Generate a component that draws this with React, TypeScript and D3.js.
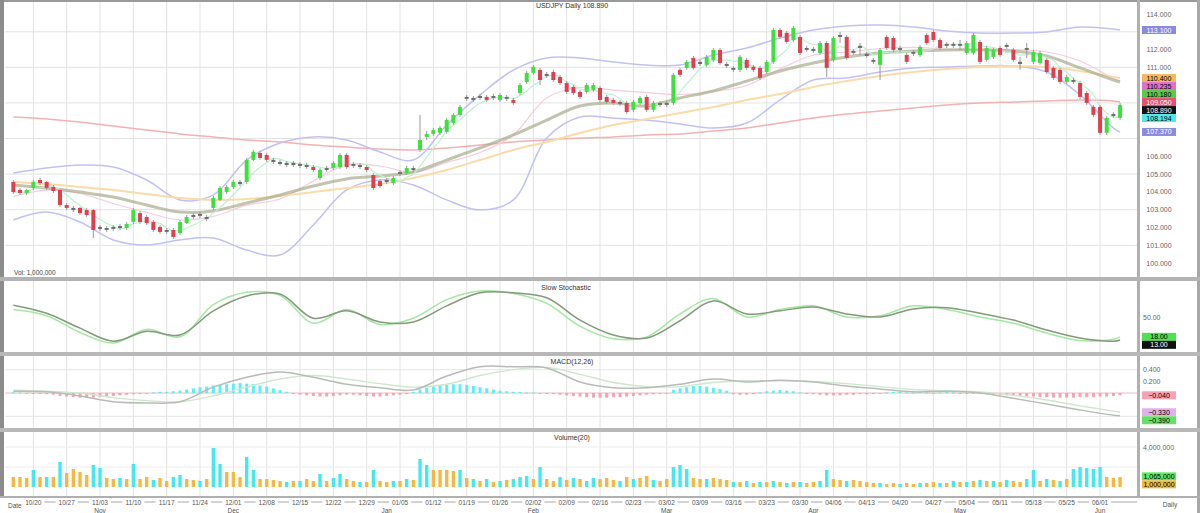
import React from "react";
import * as d3 from "d3";

// ---------- candle data (daily) ----------
const opens = [
  104.56, 104.11, 103.94, 104.22, 104.67, 104.56, 104.28, 104.11, 103.26, 103.10,
  103.10, 102.98, 102.98, 102.03, 101.97, 101.92, 102.08, 101.97, 102.31, 102.81,
  102.59, 102.31, 102.03, 101.86, 101.86, 101.69, 102.25, 102.70, 102.76, 102.59,
  103.10, 103.55, 103.99, 104.28, 104.56, 104.56, 105.80, 106.19, 106.08, 105.80,
  105.68, 105.63, 105.51, 105.57, 105.51, 105.40, 104.78, 105.23, 105.34, 105.40,
  106.08, 105.57, 105.51, 105.40, 104.95, 104.61, 104.56, 104.50, 105.12, 105.06,
  105.34, 106.36, 107.09, 107.26, 107.32, 107.37, 107.88, 108.33, 109.34, 109.17,
  109.39, 109.34, 109.28, 109.17, 109.34, 109.17, 109.56, 110.18, 110.69, 110.86,
  110.63, 110.74, 110.46, 110.12, 109.90, 109.62, 109.62, 109.73, 109.84, 109.34,
  109.17, 109.06, 109.00, 108.61, 109.00, 109.34, 108.61, 109.00, 108.89, 109.00,
  110.86, 110.97, 111.53, 111.31, 111.14, 111.42, 111.98, 111.19, 110.97, 110.86,
  111.42, 111.03, 110.97, 110.74, 111.31, 113.10, 112.94, 112.54, 112.71, 112.09,
  111.92, 111.81, 112.37, 111.42, 112.71, 112.71, 111.92, 112.09, 111.76, 111.42,
  111.14, 112.71, 112.65, 112.09, 111.70, 111.76, 111.70, 112.82, 112.99, 112.54,
  112.32, 112.21, 112.32, 111.81, 111.81, 112.43, 111.42, 111.59, 112.09, 112.26,
  111.98, 111.31, 111.98, 111.31, 111.25, 111.42, 110.97, 110.86, 110.18, 110.29,
  110.12, 109.56, 108.78, 108.78, 107.32, 108.38, 108.16,
];
const closes = [
  103.99, 103.94, 104.11, 104.56, 104.50, 104.22, 104.05, 103.26, 103.10, 102.98,
  102.81, 102.70, 101.86, 101.92, 101.86, 102.03, 101.97, 102.20, 102.98, 102.31,
  102.25, 101.86, 101.75, 101.75, 101.47, 102.31, 102.59, 102.59, 102.65, 102.48,
  103.66, 104.22, 104.28, 104.56, 104.44, 105.80, 106.25, 105.91, 105.80, 105.68,
  105.57, 105.51, 105.63, 105.46, 105.40, 105.23, 105.23, 105.34, 105.63, 106.08,
  105.40, 105.46, 105.40, 105.23, 104.22, 104.33, 104.67, 104.78, 105.01, 105.34,
  105.23, 106.92, 107.26, 107.48, 107.60, 108.05, 108.33, 108.78, 109.23, 109.28,
  109.28, 109.17, 109.39, 109.45, 109.23, 109.00, 110.01, 110.69, 111.03, 110.29,
  110.52, 110.29, 110.12, 109.62, 109.56, 109.34, 110.01, 110.01, 109.17, 109.06,
  109.00, 108.95, 108.49, 109.06, 109.28, 108.61, 109.00, 108.89, 109.00, 110.58,
  110.58, 111.31, 110.97, 111.19, 111.59, 111.98, 111.25, 111.08, 110.86, 111.59,
  110.97, 110.86, 110.41, 111.31, 113.10, 112.71, 112.43, 113.22, 111.81, 111.98,
  112.04, 112.37, 110.97, 112.65, 112.82, 111.53, 111.81, 112.21, 111.64, 111.31,
  111.98, 112.09, 111.98, 111.98, 111.31, 111.87, 112.15, 112.37, 112.54, 112.09,
  112.21, 112.32, 112.21, 112.37, 112.82, 111.31, 112.09, 111.98, 111.70, 112.15,
  111.42, 111.19, 112.09, 111.87, 111.81, 110.74, 110.41, 110.18, 110.46, 110.18,
  109.34, 109.00, 108.33, 107.32, 108.16, 108.27, 108.89,
];
const highs = [
  104.67, 104.22, 104.16, 104.67, 104.78, 104.61, 104.39, 104.16, 103.38, 103.21,
  103.15, 103.10, 103.04, 102.14, 102.08, 102.14, 102.20, 102.31, 103.10, 102.93,
  102.70, 102.42, 102.14, 101.97, 101.97, 102.42, 102.70, 102.81, 102.87, 102.70,
  103.77, 104.33, 104.39, 104.67, 104.67, 105.91, 106.36, 106.30, 106.19, 105.91,
  105.80, 105.74, 105.74, 105.68, 105.63, 105.51, 105.34, 105.46, 105.74, 106.19,
  106.19, 105.68, 105.63, 105.51, 105.06, 104.72, 104.78, 104.89, 105.23, 105.46,
  105.46, 108.33, 107.43, 107.60, 107.71, 108.16, 108.44, 108.89, 109.45, 109.39,
  109.51, 109.45, 109.51, 109.56, 109.45, 109.28, 110.12, 110.80, 111.14, 110.97,
  110.74, 110.86, 110.58, 110.24, 110.01, 109.73, 110.12, 110.12, 109.96, 109.45,
  109.28, 109.17, 109.11, 109.17, 109.39, 109.45, 109.11, 109.11, 109.11, 110.69,
  110.97, 111.42, 111.64, 111.42, 111.70, 112.09, 112.09, 111.31, 111.08, 111.70,
  111.53, 111.14, 111.08, 111.42, 113.22, 113.22, 113.05, 113.33, 112.82, 112.21,
  112.15, 112.48, 112.48, 112.76, 112.99, 112.82, 112.04, 112.37, 111.87, 111.53,
  112.09, 112.82, 112.76, 112.21, 111.81, 111.98, 112.26, 112.94, 113.10, 112.65,
  112.43, 112.43, 112.54, 112.48, 112.94, 112.54, 112.21, 112.09, 112.21, 112.37,
  112.09, 111.59, 112.37, 111.98, 111.92, 111.53, 111.08, 110.97, 110.58, 110.41,
  110.24, 109.68, 108.89, 108.89, 108.27, 108.49, 109.00,
];
const lows = [
  103.88, 103.83, 103.83, 104.11, 104.39, 104.11, 103.94, 103.15, 102.98, 102.87,
  102.70, 102.59, 101.41, 101.80, 101.75, 101.80, 101.86, 101.86, 102.20, 102.20,
  102.14, 101.75, 101.64, 101.64, 101.35, 101.58, 102.20, 102.48, 102.53, 102.36,
  102.98, 103.49, 103.88, 104.16, 104.33, 104.44, 105.74, 105.80, 105.68, 105.57,
  105.46, 105.40, 105.40, 105.34, 105.29, 105.12, 104.67, 105.12, 105.23, 105.29,
  105.29, 105.34, 105.29, 105.12, 104.11, 104.22, 104.44, 104.39, 104.89, 104.95,
  105.12, 106.25, 106.92, 107.15, 107.20, 107.26, 107.77, 108.21, 109.11, 109.06,
  109.17, 109.06, 109.17, 109.06, 109.11, 108.89, 109.45, 110.07, 110.58, 110.01,
  110.41, 110.18, 110.01, 109.51, 109.45, 109.23, 109.51, 109.62, 109.06, 108.95,
  108.89, 108.83, 108.38, 108.49, 108.89, 108.49, 108.49, 108.78, 108.78, 108.89,
  110.46, 110.86, 110.86, 111.08, 111.03, 111.31, 111.14, 110.97, 110.74, 110.74,
  110.86, 110.74, 110.29, 110.63, 111.19, 112.60, 112.32, 112.43, 111.70, 111.87,
  111.81, 111.70, 110.46, 111.31, 112.37, 111.42, 111.70, 111.70, 111.53, 111.19,
  110.29, 111.98, 111.87, 111.87, 111.19, 111.64, 111.59, 112.26, 112.43, 111.98,
  112.09, 112.09, 111.98, 111.70, 111.70, 111.19, 111.31, 111.47, 111.59, 112.04,
  111.31, 110.86, 111.53, 111.19, 111.14, 110.63, 110.29, 110.07, 110.07, 110.07,
  109.23, 108.89, 108.21, 107.20, 107.20, 108.16, 108.05,
];
// volume in units of 100,000
const volumes = [
  10, 10, 9, 17, 10, 10, 10, 25, 14, 18,
  15, 12, 22, 19, 9, 8, 9, 8, 23, 8,
  10, 7, 9, 6, 10, 12, 8, 7, 6, 8,
  39, 23, 15, 15, 10, 30, 17, 8, 8, 7,
  6, 5, 6, 6, 8, 6, 13, 6, 9, 13,
  8, 6, 5, 5, 17, 6, 5, 6, 6, 8,
  7, 28, 22, 17, 17, 17, 16, 17, 9, 8,
  6, 8, 5, 6, 7, 8, 10, 11, 8, 20,
  8, 6, 10, 7, 9, 8, 6, 9, 8, 9,
  7, 6, 10, 8, 9, 11, 7, 6, 8, 20,
  22, 18, 9, 8, 8, 9, 8, 7, 5, 5,
  6, 4, 5, 5, 6, 5, 4, 5, 5, 4,
  5, 6, 17, 8, 7, 6, 7, 6, 5, 4,
  4, 3, 4, 3, 4, 3, 4, 4, 5, 4,
  4, 6, 5, 5, 6, 7, 6, 6, 5, 7,
  6, 5, 8, 17, 6, 8, 7, 6, 8, 18,
  20, 19, 18, 20, 10, 9, 10,
];
// c = cyan bar, o = orange bar
const volumeKinds =
  "ooocococoo" + "ooccoococo" + "ocooccooco" + "ccoooccooo" + "ococoococc" +
  "oococoococ" + "occoooococ" + "ocococccoc" + "oocococcoo" + "ococoocooc" +
  "ccoocoooco" + "cococococo" + "occoocoooo" + "coocoocooc" + "ocococococ" +
  "ooccocococ" + "ccccooo";

const macdHist = [
  0.01, 0.01, 0.0, -0.01, -0.01, -0.02, -0.03,
  -0.05, -0.06, -0.07, -0.08, -0.08, -0.08, -0.07, -0.06, -0.05, -0.04,
  -0.03, -0.02, -0.01, 0.0, 0.01, 0.02, 0.02, 0.03, 0.04,
  0.06, 0.08, 0.1, 0.11, 0.13, 0.14, 0.15, 0.16, 0.17, 0.16, 0.15, 0.13, 0.11, 0.08, 0.05,
  0.02, -0.01, -0.03, -0.04, -0.05, -0.06, -0.06, -0.05, -0.04, -0.03, -0.03, -0.04, -0.05, -0.06, -0.06, -0.05, -0.04, -0.03, -0.02,
  0.02, 0.06, 0.09, 0.11, 0.13, 0.14, 0.15, 0.15, 0.14, 0.12, 0.1, 0.08, 0.06,
  0.04, 0.03, 0.02, 0.02, 0.01, 0.01, 0.0, -0.01, -0.02,
  -0.03, -0.04, -0.05, -0.06, -0.07, -0.08, -0.08, -0.08, -0.07, -0.07, -0.06, -0.05, -0.04, -0.03, -0.02, -0.01, 0.0,
  0.05, 0.08, 0.1, 0.12, 0.12, 0.11, 0.09, 0.07, 0.04,
  -0.02, -0.03, -0.03, -0.02, 0.01, 0.03, 0.04, 0.05, 0.04, 0.03, 0.01,
  -0.01, -0.02, -0.03, -0.04, -0.04, -0.04, -0.03, -0.03, -0.02, -0.02, -0.01, -0.01,
  0.01, 0.02, 0.02, 0.01, 0.01, 0.02, 0.01, 0.0, 0.01, 0.02, 0.01, 0.0, -0.01, 0.0, -0.01,
  -0.02, -0.03, -0.03, -0.04, -0.05, -0.05, -0.06, -0.06, -0.07, -0.07, -0.08, -0.08, -0.08, -0.08, -0.07, -0.07, -0.07, -0.06, -0.06, -0.05, -0.04,
];

// ---------- indicator readings, every 5th session ----------
const sampleIdx = [
  0, 5, 10, 15, 20, 25, 30, 35, 40, 45, 50, 55, 60, 65, 70, 75, 80, 85,
  90, 95, 100, 105, 110, 115, 120, 125, 130, 135, 140, 145, 150, 155, 160, 165, 166,
];
const bbUpper = [
  105.06, 105.34, 105.51, 105.4, 104.67, 103.55, 103.83, 105.79, 106.75, 107.09, 106.92, 106.24,
  105.79, 107.76, 109.45, 110.85, 111.53, 111.53, 111.3, 111.13, 111.13, 111.7, 112.09, 112.65,
  113.1, 113.33, 113.38, 113.27, 113.04, 112.93, 112.93, 112.99, 113.27, 113.16, 113.1,
];
const bbLower = [
  102.42, 102.87, 102.31, 101.3, 101.02, 101.3, 101.41, 100.73, 100.45, 102.14, 104.11, 104.67,
  104.39, 103.55, 102.98, 103.55, 107.03, 108.21, 108.15, 108.04, 107.82, 107.59, 107.87, 109.17,
  110.29, 110.4, 110.74, 110.97, 111.02, 111.08, 111.08, 110.74, 109.45, 107.59, 107.37,
];
const maOlive = [
  104.39, 104.22, 103.99, 103.71, 103.26, 102.87, 102.93, 103.38, 103.83, 104.33, 104.73, 104.89,
  105.12, 105.79, 106.47, 107.2, 108.04, 108.83, 109.0, 108.83, 109.28, 109.67, 110.23, 110.8,
  111.25, 111.58, 111.81, 111.92, 111.98, 111.98, 111.92, 111.64, 110.97, 110.29, 110.18,
];
const maOrange = [
  104.56, 104.44, 104.28, 104.11, 103.88, 103.66, 103.55, 103.6, 103.77, 103.99, 104.22, 104.44,
  104.78, 105.23, 105.79, 106.36, 106.81, 107.31, 107.76, 108.1, 108.44, 108.77, 109.17, 109.5,
  109.9, 110.23, 110.52, 110.74, 110.91, 111.02, 111.08, 111.02, 110.8, 110.46, 110.4,
];
const maRed = [
  108.21, 108.1, 107.93, 107.7, 107.48, 107.26, 107.09, 106.92, 106.81, 106.64, 106.52, 106.41,
  106.36, 106.47, 106.64, 106.81, 106.92, 107.03, 107.09, 107.2, 107.26, 107.42, 107.59, 107.87,
  108.15, 108.38, 108.55, 108.72, 108.89, 109.0, 109.05, 109.11, 109.17, 109.11, 109.05,
];
const stochK = [
  62, 52, 25, 8, 30, 18, 70, 90, 85, 40, 62, 38, 48, 78, 92, 88, 72, 35,
  15, 18, 55, 80, 50, 62, 68, 50, 52, 68, 62, 50, 40, 24, 12, 14, 18,
];
const stochD = [
  69, 56, 32, 11, 27, 21, 60, 84, 87, 48, 60, 42, 42, 68, 89, 89, 81, 45,
  21, 16, 44, 76, 55, 60, 66, 55, 50, 63, 65, 56, 45, 29, 16, 11, 13,
];
const macdLine = [
  0.03, 0.02, -0.05, -0.15, -0.17, -0.15, 0.1, 0.27, 0.36, 0.27, 0.15, 0.09, 0.05, 0.29, 0.45, 0.45, 0.43, 0.19,
  0.09, 0.09, 0.15, 0.24, 0.19, 0.22, 0.19, 0.12, 0.07, 0.02, 0.03, 0.0, -0.09, -0.19, -0.29, -0.38, -0.39,
];
const macdSignal = [
  0.05, 0.03, 0.0, -0.08, -0.13, -0.15, -0.05, 0.1, 0.24, 0.3, 0.24, 0.16, 0.1, 0.15, 0.3, 0.4, 0.44, 0.32,
  0.18, 0.11, 0.11, 0.18, 0.21, 0.21, 0.2, 0.16, 0.11, 0.06, 0.04, 0.02, -0.04, -0.12, -0.22, -0.31, -0.33,
];

const priceTicks = [100, 101, 102, 103, 104, 105, 106, 107, 108, 109, 110, 111, 112, 113, 114];
const priceGrid = [101, 103, 105, 107, 109, 111, 113];
const stochTicks = [50];
const macdTicks = [0.4, 0.2];
const macdGrid = [0.4, 0, -0.4];
const volTicks = [40];
const volGrid = [20, 40];

const FONT = "'Liberation Sans', Arial, sans-serif";

type Tag = { v: number; y: number; bg: string; fg: string; text: string };
function stack(tags: Tag[], h: number): Tag[] {
  const s = [...tags].sort((a, b) => a.y - b.y);
  let last = -Infinity;
  return s.map((t) => {
    const y = Math.max(t.y, last + h);
    last = y;
    return { ...t, y };
  });
}

export default function App() {
  const n = closes.length;
  const PL = 5;
  const PR = 1137;
  const main = { top: 2, bottom: 277 };
  const stP = { top: 281, bottom: 352 };
  const mcP = { top: 356, bottom: 428 };
  const vP = { top: 432, bottom: 496 };

  const xb = d3.scaleBand<number>().domain(d3.range(n)).range([10, 1123.4]);
  const cx = (i: number) => (xb(i) as number) + xb.bandwidth() / 2;

  const yP = d3.scaleLinear().domain([114, 100]).range([14, 263.06]);
  const yS = d3.scaleLinear().domain([0, 100]).range([348, 286]);
  const yM = d3.scaleLinear().domain([-0.6, 0.6]).range([428, 358]);
  const yV = d3.scaleLinear().domain([0, 50]).range([487, 437]);

  // trading days
  const dates: Date[] = [];
  let d = new Date(2014, 9, 15);
  while (dates.length < n) {
    const wd = d.getDay();
    if (wd !== 0 && wd !== 6) dates.push(d);
    d = d3.timeDay.offset(d, 1);
  }
  const weekStarts = d3.range(n).filter((i) => i > 0 && dates[i].getDay() < dates[i - 1].getDay());
  const monthStarts = d3.range(n).filter((i) => i > 0 && dates[i].getMonth() !== dates[i - 1].getMonth());
  const fmtDay = d3.timeFormat("%m/%d");
  const fmtMonth = d3.timeFormat("%b");

  const sampled = (scale: d3.ScaleLinear<number, number>) =>
    d3
      .line<number>()
      .x((_, k) => cx(sampleIdx[k]))
      .y((v) => scale(v))
      .curve(d3.curveCatmullRom.alpha(0.5));

  const bbMid = bbUpper.map((u, k) => (u + bbLower[k]) / 2);
  const sma5 = d3.range(n).map((i) => d3.mean(closes.slice(Math.max(0, i - 4), i + 1)) as number);
  const lineDaily = d3
    .line<number>()
    .x((_, i) => cx(i))
    .y((v) => yP(v))
    .curve(d3.curveMonotoneX);
  const volAvg = d3.mean(volumes.slice(n - 20)) as number;

  const f3 = d3.format(".3f");
  const last = (a: number[]) => a[a.length - 1];

  const mainTags = stack(
    [
      { v: last(bbUpper), bg: "#8a8ae0", fg: "#fff" },
      { v: last(maOrange), bg: "#f4b860", fg: "#000" },
      { v: last(bbMid), bg: "#e070c8", fg: "#000" },
      { v: last(maOlive), bg: "#5cc84c", fg: "#000" },
      { v: last(maRed), bg: "#e8506a", fg: "#fff" },
      { v: last(closes), bg: "#111", fg: "#fff" },
      { v: last(sma5), bg: "#50e8e8", fg: "#000" },
      { v: last(bbLower), bg: "#8a8ae0", fg: "#fff" },
    ].map((t) => ({ ...t, y: yP(t.v), text: f3(t.v) })),
    8
  );
  const stochTags = stack(
    [
      { v: last(stochK), bg: "#50e050", fg: "#000" },
      { v: last(stochD), bg: "#111", fg: "#fff" },
    ].map((t) => ({ ...t, y: yS(t.v), text: d3.format(".2f")(t.v) })),
    8
  );
  const macdTags = stack(
    [
      { v: last(macdHist), bg: "#f4a2b4", fg: "#000" },
      { v: last(macdSignal), bg: "#e2b0ea", fg: "#000" },
      { v: last(macdLine), bg: "#66e066", fg: "#000" },
    ].map((t) => ({ ...t, y: yM(t.v), text: d3.format(".3f")(t.v) })),
    8
  );
  const volTags = stack(
    [
      { v: volAvg, bg: "#60e860", fg: "#000" },
      { v: last(volumes), bg: "#f4b840", fg: "#000" },
    ].map((t) => ({ ...t, y: yV(t.v), text: d3.format(",")(Math.round(t.v * 100000)) })),
    8
  );
  const freeOfTags = (y: number) => mainTags.every((t) => Math.abs(t.y - y) > 7.5);

  const renderTags = (tags: Tag[]) =>
    tags.map((t, k) => (
      <g key={k}>
        <rect x={1142} y={t.y - 4} width={34} height={8} fill={t.bg} />
        <text x={1159} y={t.y + 2.5} fontSize={7} textAnchor="middle" fill={t.fg} fontFamily={FONT}>
          {t.text}
        </text>
      </g>
    ));

  const vGrid = (top: number, bottom: number) =>
    weekStarts.map((i) => (
      <line key={"vg" + top + "-" + i} x1={cx(i)} x2={cx(i)} y1={top} y2={bottom} stroke="#e3e3e3" strokeWidth={1} />
    ));

  const bw = 4;

  return (
    <svg
      width={1200}
      height={513}
      style={{ position: "absolute", left: 0, top: 0, background: "#fff" }}
      fontFamily={FONT}
    >
      <defs>
        <clipPath id="clipMain">
          <rect x={PL} y={main.top} width={PR - PL} height={main.bottom - main.top} />
        </clipPath>
        <clipPath id="clipSt">
          <rect x={PL} y={stP.top} width={PR - PL} height={stP.bottom - stP.top} />
        </clipPath>
        <clipPath id="clipMc">
          <rect x={PL} y={mcP.top} width={PR - PL} height={mcP.bottom - mcP.top} />
        </clipPath>
      </defs>
      <rect x={0} y={0} width={1200} height={513} fill="#fff" />

      {/* ---------- grids ---------- */}
      {vGrid(main.top, main.bottom)}
      {vGrid(stP.top, stP.bottom)}
      {vGrid(mcP.top, mcP.bottom)}
      {vGrid(vP.top, vP.bottom)}
      {priceGrid.map((p) => (
        <line key={"pg" + p} x1={PL} x2={PR} y1={yP(p)} y2={yP(p)} stroke="#e3e3e3" />
      ))}
      {macdGrid.map((p) => (
        <line key={"mg" + p} x1={PL} x2={PR} y1={yM(p)} y2={yM(p)} stroke="#e6e6e6" />
      ))}
      {volGrid.map((p) => (
        <line key={"vgr" + p} x1={PL} x2={PR} y1={yV(p)} y2={yV(p)} stroke="#ececec" />
      ))}

      {/* ---------- main panel ---------- */}
      <g clipPath="url(#clipMain)">
        <path d={sampled(yP)(maRed) || ""} fill="none" stroke="#f2b2b2" strokeWidth={1.5} />
        <path d={sampled(yP)(bbUpper) || ""} fill="none" stroke="#c2c2f2" strokeWidth={1.5} />
        <path d={sampled(yP)(bbLower) || ""} fill="none" stroke="#c2c2f2" strokeWidth={1.5} />
        <path d={sampled(yP)(bbMid) || ""} fill="none" stroke="#f6cce0" strokeWidth={1.2} />
        <path d={sampled(yP)(maOrange) || ""} fill="none" stroke="#f9dcaa" strokeWidth={2} />
        <path d={sampled(yP)(maOlive) || ""} fill="none" stroke="#a8ab8c" strokeOpacity={0.7} strokeWidth={3} />
        <path d={lineDaily(sma5) || ""} fill="none" stroke="#bdf0d0" strokeWidth={1.2} />
        {d3.range(n).map((i) => {
          const o = opens[i];
          const c = closes[i];
          const doji = Math.abs(c - o) < 0.13;
          const col = doji ? "#6e6e6e" : c > o ? "#3ee03e" : "#e0404e";
          const yT = yP(Math.max(o, c));
          const yB = yP(Math.min(o, c));
          return (
            <g key={"c" + i}>
              <line x1={cx(i)} x2={cx(i)} y1={yP(highs[i])} y2={yP(lows[i])} stroke="#9a9a9a" strokeWidth={1} />
              <rect x={cx(i) - bw / 2} y={yT} width={bw} height={Math.max(1.5, yB - yT)} fill={col} />
            </g>
          );
        })}
      </g>
      <text x={572} y={8} fontSize={7} textAnchor="middle" fill="#333">
        USDJPY  Daily  108.890
      </text>
      <text x={14} y={275} fontSize={6.5} fill="#444">
        Vol: 1,000,000
      </text>

      {/* ---------- stochastic ---------- */}
      <g clipPath="url(#clipSt)">
        <path d={sampled(yS)(stochK) || ""} fill="none" stroke="#a4e8a4" strokeWidth={1.5} />
        <path d={sampled(yS)(stochD) || ""} fill="none" stroke="#849a7a" strokeWidth={1.5} />
      </g>
      <text x={566} y={290} fontSize={7} textAnchor="middle" fill="#333">
        Slow  Stochastic
      </text>

      {/* ---------- MACD ---------- */}
      <g clipPath="url(#clipMc)">
        <line x1={PL} x2={PR} y1={yM(0)} y2={yM(0)} stroke="#f2c8d0" />
        {macdHist.map((v, i) => (
          <rect
            key={"h" + i}
            x={cx(i) - 1.5}
            y={Math.min(yM(v), yM(0))}
            width={3}
            height={Math.max(1, Math.abs(yM(v) - yM(0)))}
            fill={v >= 0 ? "#5ef0f0" : "#f4a2b4"}
          />
        ))}
        <path d={sampled(yM)(macdSignal) || ""} fill="none" stroke="#cfe6cf" strokeWidth={1.4} />
        <path d={sampled(yM)(macdLine) || ""} fill="none" stroke="#b8bcb8" strokeWidth={1.5} />
      </g>
      <text x={572} y={364} fontSize={7} textAnchor="middle" fill="#333">
        MACD(12,26)
      </text>

      {/* ---------- volume ---------- */}
      {volumes.map((v, i) => (
        <rect
          key={"v" + i}
          x={cx(i) - 1.7}
          y={yV(v)}
          width={3.4}
          height={yV(0) - yV(v)}
          fill={volumeKinds[i] === "c" ? "#46e8f0" : "#f6b844"}
        />
      ))}
      <text x={572} y={440} fontSize={7} textAnchor="middle" fill="#333">
        Volume(20)
      </text>

      {/* ---------- separators / frame ---------- */}
      <rect x={0} y={0} width={1200} height={2} fill="#9a9a9a" />
      <rect x={0} y={0} width={4} height={497} fill="#8c8c8c" />
      <rect x={1197} y={0} width={3} height={513} fill="#a8a8a8" />
      <rect x={PR} y={0} width={3} height={498} fill="#b0b0b0" />
      <rect x={0} y={main.bottom} width={1200} height={4} fill="#b4b4b4" />
      <rect x={0} y={stP.bottom} width={1200} height={4} fill="#b8b8b8" />
      <rect x={0} y={mcP.bottom} width={1200} height={4} fill="#b8b8b8" />
      <rect x={0} y={vP.bottom} width={1200} height={2} fill="#b0b0b0" />

      {/* ---------- right axes ---------- */}
      {priceTicks
        .filter((p) => freeOfTags(yP(p)))
        .map((p) => (
          <text key={"pt" + p} x={1159} y={yP(p) + 2.5} fontSize={7} textAnchor="middle" fill="#666">
            {f3(p)}
          </text>
        ))}
      {renderTags(mainTags)}
      {stochTicks.map((p) => (
        <text key={"st" + p} x={1143} y={yS(p) + 2.5} fontSize={7} fill="#666">
          {d3.format(".2f")(p)}
        </text>
      ))}
      {renderTags(stochTags)}
      {macdTicks.map((p) => (
        <text key={"mt" + p} x={1143} y={yM(p) + 2.5} fontSize={7} fill="#666">
          {d3.format(".3f")(p)}
        </text>
      ))}
      {renderTags(macdTags)}
      {volTicks.map((p) => (
        <text key={"vt" + p} x={1143} y={yV(p) + 2.5} fontSize={7} fill="#666">
          {d3.format(",")(p * 100000)}
        </text>
      ))}
      {renderTags(volTags)}

      {/* ---------- date axis ---------- */}
      <line x1={6} x2={PR} y1={502} y2={502} stroke="#c4c4c4" strokeWidth={1.5} />
      {weekStarts.map((i) => (
        <g key={"wd" + i}>
          <rect x={cx(i) - 11} y={498.5} width={22} height={7} fill="#fff" />
          <text x={cx(i)} y={504.5} fontSize={6.5} textAnchor="middle" fill="#555">
            {fmtDay(dates[i])}
          </text>
        </g>
      ))}
      {monthStarts.map((i) => (
        <text key={"md" + i} x={cx(i)} y={512.5} fontSize={6.5} textAnchor="middle" fill="#555">
          {fmtMonth(dates[i])}
        </text>
      ))}
      <rect x={6} y={498.5} width={20} height={7} fill="#fff" />
      <text x={8} y={508} fontSize={6.5} fill="#555">
        Date
      </text>
      <text x={1170} y={507} fontSize={6.5} textAnchor="middle" fill="#555">
        Daily
      </text>
    </svg>
  );
}
